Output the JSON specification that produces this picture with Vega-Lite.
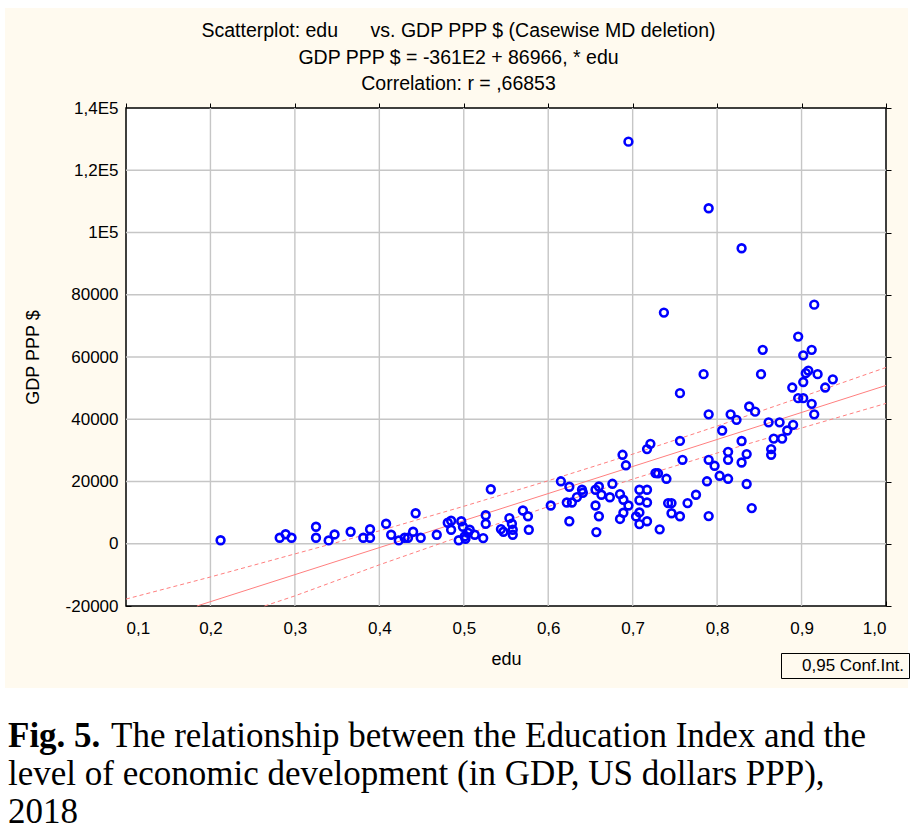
{
  "$schema": "https://vega.github.io/schema/vega-lite/v6.json",
  "background": "white",
  "padding": {"left": 5, "top": 8, "right": 0, "bottom": 0},
  "spacing": 0,
  "config": {
    "font": "Liberation Sans",
    "axis": {
      "labelFont": "Liberation Sans",
      "labelFontSize": 17,
      "labelColor": "black",
      "titleFont": "Liberation Sans",
      "titleFontSize": 18,
      "titleFontWeight": "normal",
      "titleColor": "black",
      "domain": false,
      "grid": false,
      "tickColor": "black",
      "tickWidth": 1,
      "zindex": 1
    },
    "legend": {"labelFont": "Liberation Sans", "labelFontSize": 17, "labelColor": "black"}
  },
  "datasets": {
    "points": [
      {"edu":0.212,"gdp":1124},{"edu":0.282,"gdp":1927},{"edu":0.289,"gdp":3050},{"edu":0.296,"gdp":1927},
      {"edu":0.325,"gdp":5459},{"edu":0.325,"gdp":1927},{"edu":0.340,"gdp":1060},{"edu":0.347,"gdp":2986},
      {"edu":0.366,"gdp":3853},{"edu":0.381,"gdp":1927},{"edu":0.389,"gdp":4656},{"edu":0.389,"gdp":1927},
      {"edu":0.408,"gdp":6422},{"edu":0.414,"gdp":2890},{"edu":0.423,"gdp":1060},{"edu":0.430,"gdp":1927},
      {"edu":0.434,"gdp":1927},{"edu":0.440,"gdp":3853},{"edu":0.443,"gdp":9794},{"edu":0.449,"gdp":1927},
      {"edu":0.468,"gdp":2890},{"edu":0.481,"gdp":6743},{"edu":0.485,"gdp":7385},{"edu":0.485,"gdp":4495},
      {"edu":0.494,"gdp":1124},{"edu":0.497,"gdp":7224},{"edu":0.499,"gdp":5459},{"edu":0.501,"gdp":2344},
      {"edu":0.505,"gdp":3532},{"edu":0.507,"gdp":4495},{"edu":0.513,"gdp":2890},{"edu":0.502,"gdp":1605},
      {"edu":0.523,"gdp":1830},{"edu":0.526,"gdp":9151},{"edu":0.526,"gdp":6422},{"edu":0.532,"gdp":17500},
      {"edu":0.544,"gdp":4720},{"edu":0.547,"gdp":3853},{"edu":0.554,"gdp":8252},{"edu":0.557,"gdp":6422},
      {"edu":0.558,"gdp":4495},{"edu":0.558,"gdp":2890},{"edu":0.570,"gdp":10693},{"edu":0.576,"gdp":8830},
      {"edu":0.577,"gdp":4495},{"edu":0.603,"gdp":12298},{"edu":0.615,"gdp":20069},{"edu":0.625,"gdp":18303},
      {"edu":0.622,"gdp":13262},{"edu":0.628,"gdp":13262},{"edu":0.625,"gdp":7224},{"edu":0.634,"gdp":14996},
      {"edu":0.640,"gdp":17339},{"edu":0.641,"gdp":16376},{"edu":0.656,"gdp":17339},{"edu":0.660,"gdp":18399},
      {"edu":0.663,"gdp":15734},{"edu":0.656,"gdp":12298},{"edu":0.660,"gdp":8830},{"edu":0.657,"gdp":3757},
      {"edu":0.673,"gdp":14931},{"edu":0.676,"gdp":19266},{"edu":0.685,"gdp":15959},{"edu":0.688,"gdp":28579},
      {"edu":0.692,"gdp":25206},{"edu":0.689,"gdp":14129},{"edu":0.695,"gdp":12298},{"edu":0.689,"gdp":9954},
      {"edu":0.685,"gdp":7963},{"edu":0.708,"gdp":17339},{"edu":0.717,"gdp":17339},{"edu":0.708,"gdp":13968},
      {"edu":0.717,"gdp":13262},{"edu":0.708,"gdp":10051},{"edu":0.704,"gdp":8766},{"edu":0.708,"gdp":6326},
      {"edu":0.717,"gdp":7224},{"edu":0.717,"gdp":30409},{"edu":0.721,"gdp":32110},{"edu":0.727,"gdp":22702},
      {"edu":0.730,"gdp":22638},{"edu":0.740,"gdp":20872},{"edu":0.732,"gdp":4624},{"edu":0.737,"gdp":74272},
      {"edu":0.695,"gdp":129178},{"edu":0.742,"gdp":13069},{"edu":0.746,"gdp":13069},{"edu":0.746,"gdp":9794},
      {"edu":0.756,"gdp":8830},{"edu":0.765,"gdp":13069},{"edu":0.775,"gdp":15734},{"edu":0.756,"gdp":48390},
      {"edu":0.756,"gdp":33074},{"edu":0.759,"gdp":26972},{"edu":0.784,"gdp":54490},{"edu":0.788,"gdp":20069},
      {"edu":0.790,"gdp":41583},{"edu":0.790,"gdp":26972},{"edu":0.790,"gdp":8895},{"edu":0.790,"gdp":107793},
      {"edu":0.797,"gdp":25046},{"edu":0.803,"gdp":21835},{"edu":0.806,"gdp":36381},{"edu":0.813,"gdp":29541},
      {"edu":0.813,"gdp":26972},{"edu":0.813,"gdp":20872},{"edu":0.816,"gdp":41583},{"edu":0.823,"gdp":39816},
      {"edu":0.829,"gdp":33010},{"edu":0.829,"gdp":26106},{"edu":0.829,"gdp":94950},{"edu":0.835,"gdp":28803},
      {"edu":0.835,"gdp":19202},{"edu":0.838,"gdp":44087},{"edu":0.841,"gdp":11463},{"edu":0.845,"gdp":42449},
      {"edu":0.852,"gdp":54490},{"edu":0.854,"gdp":62294},{"edu":0.861,"gdp":39014},{"edu":0.864,"gdp":30409},
      {"edu":0.864,"gdp":28579},{"edu":0.867,"gdp":33780},{"edu":0.874,"gdp":39014},{"edu":0.877,"gdp":33780},
      {"edu":0.883,"gdp":36381},{"edu":0.890,"gdp":38212},{"edu":0.889,"gdp":50190},{"edu":0.896,"gdp":46786},
      {"edu":0.896,"gdp":66565},{"edu":0.902,"gdp":46786},{"edu":0.902,"gdp":51955},{"edu":0.902,"gdp":60530},
      {"edu":0.905,"gdp":54813},{"edu":0.908,"gdp":55647},{"edu":0.912,"gdp":62294},{"edu":0.912,"gdp":44955},
      {"edu":0.915,"gdp":41583},{"edu":0.915,"gdp":76807},{"edu":0.919,"gdp":54490},{"edu":0.928,"gdp":50190},
      {"edu":0.937,"gdp":52820}
    ],
    "fit": [
      {"edu":0.184,"gdp":-20000},{"edu":1.0,"gdp":50866}
    ],
    "bands": [
      {"edu":0.1,"gdp":-17773,"line":"upper","ci":"0,95 Conf.Int."},
      {"edu":0.2,"gdp":-10677,"line":"upper","ci":"0,95 Conf.Int."},
      {"edu":0.3,"gdp":-3270,"line":"upper","ci":"0,95 Conf.Int."},
      {"edu":0.4,"gdp":4146,"line":"upper","ci":"0,95 Conf.Int."},
      {"edu":0.5,"gdp":12033,"line":"upper","ci":"0,95 Conf.Int."},
      {"edu":0.6,"gdp":20250,"line":"upper","ci":"0,95 Conf.Int."},
      {"edu":0.7,"gdp":28786,"line":"upper","ci":"0,95 Conf.Int."},
      {"edu":0.8,"gdp":37803,"line":"upper","ci":"0,95 Conf.Int."},
      {"edu":0.9,"gdp":47149,"line":"upper","ci":"0,95 Conf.Int."},
      {"edu":1.0,"gdp":56646,"line":"upper","ci":"0,95 Conf.Int."},
      {"edu":0.264,"gdp":-20000,"line":"lower","ci":"0,95 Conf.Int."},
      {"edu":0.3,"gdp":-16750,"line":"lower","ci":"0,95 Conf.Int."},
      {"edu":0.4,"gdp":-6774,"line":"lower","ci":"0,95 Conf.Int."},
      {"edu":0.5,"gdp":2733,"line":"lower","ci":"0,95 Conf.Int."},
      {"edu":0.6,"gdp":11910,"line":"lower","ci":"0,95 Conf.Int."},
      {"edu":0.7,"gdp":20766,"line":"lower","ci":"0,95 Conf.Int."},
      {"edu":0.8,"gdp":29143,"line":"lower","ci":"0,95 Conf.Int."},
      {"edu":0.9,"gdp":37189,"line":"lower","ci":"0,95 Conf.Int."},
      {"edu":1.0,"gdp":45086,"line":"lower","ci":"0,95 Conf.Int."}
    ],
    "xgrid": [{"v":0.2},{"v":0.3},{"v":0.4},{"v":0.5},{"v":0.6},{"v":0.7},{"v":0.8},{"v":0.9}],
    "ygrid": [{"v":0},{"v":20000},{"v":40000},{"v":60000},{"v":80000},{"v":100000},{"v":120000}],
    "caption": [
      {"line":1,"seg":"b","text":"Fig. 5."},
      {"line":1,"seg":"r1","text":"The relationship between the Education Index and the"},
      {"line":2,"seg":"r","text":"level of economic development (in GDP, US dollars PPP),"},
      {"line":3,"seg":"r","text":"2018"}
    ]
  },
  "vconcat": [
    {
      "width": 903,
      "height": 680,
      "title": {
        "text": ["Scatterplot: edu\u00a0\u00a0\u00a0\u00a0\u00a0\u00a0vs. GDP PPP $ (Casewise MD deletion)", "GDP PPP $ = -361E2 + 86966, * edu", "Correlation: r = ,66853"],
        "frame": "group",
        "anchor": "middle",
        "font": "Liberation Sans",
        "fontSize": 19.5,
        "fontWeight": "normal",
        "color": "black",
        "lineHeight": 26.8,
        "offset": -87,
        "dx": 2
      },
      "view": {"fill": "#FFFAEF", "stroke": null},
      "layer": [
        {
          "data": {"values": [{}]},
          "mark": {"type": "rect", "fill": "white", "stroke": "black", "strokeWidth": 1.5},
          "encoding": {
            "x": {"datum": 0.1, "type": "quantitative", "axis": null},
            "x2": {"datum": 1.0},
            "y": {"datum": -20000, "type": "quantitative", "axis": null},
            "y2": {"datum": 140000}
          }
        },
        {
          "data": {"name": "xgrid"},
          "mark": {"type": "rule", "color": "#c6c6c6", "strokeWidth": 1.4, "opacity": 1},
          "encoding": {
            "x": {"field": "v", "type": "quantitative", "axis": null},
            "y": {"datum": -20000, "type": "quantitative", "axis": null},
            "y2": {"datum": 140000}
          }
        },
        {
          "data": {"name": "ygrid"},
          "mark": {"type": "rule", "color": "#c6c6c6", "strokeWidth": 1.4, "opacity": 1},
          "encoding": {
            "y": {"field": "v", "type": "quantitative", "axis": null},
            "x": {"datum": 0.1, "type": "quantitative", "axis": null},
            "x2": {"datum": 1.0}
          }
        },
        {
          "data": {"name": "bands"},
          "mark": {"type": "line", "color": "#FF7F7F", "strokeWidth": 1},
          "encoding": {
            "x": {"field": "edu", "type": "quantitative", "axis": null},
            "y": {"field": "gdp", "type": "quantitative", "axis": null},
            "detail": {"field": "line"},
            "strokeDash": {
              "field": "ci", "type": "nominal",
              "scale": {"range": [[4, 3]]},
              "legend": {
                "title": null, "orient": "none", "legendX": 776, "legendY": 645,
                "strokeColor": "black", "padding": 4, "symbolSize": 0, "symbolStrokeWidth": 0,
                "symbolOpacity": 0, "labelOffset": 0
              }
            }
          }
        },
        {
          "data": {"name": "fit"},
          "mark": {"type": "line", "color": "#FF7F7F", "strokeWidth": 1},
          "encoding": {
            "x": {"field": "edu", "type": "quantitative",
                  "axis": {"orient": "top", "offset": -100, "labels": false, "title": null, "tickSize": 5,
                           "values": [0.1,0.2,0.3,0.4,0.5,0.6,0.7,0.8,0.9,1.0]}},
            "y": {"field": "gdp", "type": "quantitative",
                  "axis": {"orient": "right", "offset": -22, "labels": false, "title": null, "tickSize": 5,
                           "values": [-20000,0,20000,40000,60000,80000,100000,120000,140000]}}
          }
        },
        {
          "data": {"name": "points"},
          "mark": {"type": "point", "shape": "circle", "filled": false, "color": "#0000FF", "opacity": 1, "strokeWidth": 2.6, "size": 60},
          "encoding": {
            "x": {"field": "edu", "type": "quantitative",
                  "scale": {"domain": [0.1, 1.0], "nice": false, "zero": false, "range": [121, 881]},
                  "axis": {"orient": "bottom", "offset": -82, "title": "edu", "tickSize": -5, "labelPadding": 19,
                           "titlePadding": 14,
                           "values": [0.1,0.2,0.3,0.4,0.5,0.6,0.7,0.8,0.9,1.0],
                           "labelExpr": "replace(format(datum.value, '.1f'), '.', ',')"}},
            "y": {"field": "gdp", "type": "quantitative",
                  "scale": {"domain": [-20000, 140000], "nice": false, "zero": false, "range": [598, 100]},
                  "axis": {"orient": "left", "offset": -121, "title": "GDP PPP $", "tickSize": -5, "labelPadding": 13,
                           "titlePadding": 23,
                           "values": [-20000,0,20000,40000,60000,80000,100000,120000,140000],
                           "labelExpr": "datum.value == 140000 ? '1,4E5' : datum.value == 120000 ? '1,2E5' : datum.value == 100000 ? '1E5' : datum.value < 0 ? '-' + format(-datum.value, 'd') : format(datum.value, 'd')"}}
          }
        }
      ],
      "resolve": {"axis": {"x": "independent", "y": "independent"}}
    },
    {
      "width": 910,
      "height": 151,
      "view": {"fill": "white", "stroke": null},
      "data": {"name": "caption"},
      "encoding": {
        "y": {"field": "line", "type": "ordinal", "axis": null,
              "scale": {"type": "point", "domain": [1, 2, 3], "range": [59, 135], "padding": 0}},
        "text": {"field": "text"}
      },
      "layer": [
        {
          "transform": [{"filter": "datum.seg == 'b'"}],
          "mark": {"type": "text", "font": "Liberation Serif", "fontSize": 35, "fontWeight": "bold", "align": "left", "baseline": "alphabetic", "x": 3, "color": "black"}
        },
        {
          "transform": [{"filter": "datum.seg == 'r1'"}],
          "mark": {"type": "text", "font": "Liberation Serif", "fontSize": 35, "align": "left", "baseline": "alphabetic", "x": 106, "color": "black"}
        },
        {
          "transform": [{"filter": "datum.seg == 'r'"}],
          "mark": {"type": "text", "font": "Liberation Serif", "fontSize": 35, "align": "left", "baseline": "alphabetic", "x": 3, "color": "black"}
        }
      ]
    }
  ]
}
